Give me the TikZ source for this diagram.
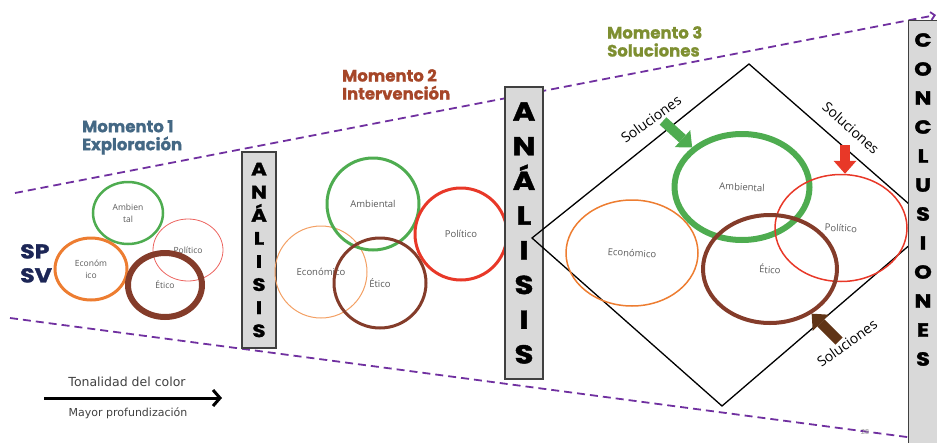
\documentclass[tikz,border=0pt]{standalone}
\usepackage{fontspec}
\usetikzlibrary{arrows.meta,positioning,shapes.geometric}
\newfontfamily\headfont{Poppins}[BoldFeatures={FakeBold=1}]
\newfontfamily\boxfont{Poppins}[FakeStretch=1.18, BoldFeatures={FakeBold=1.6}]
\newfontfamily\lblfont{Open Sans}
\newfontfamily\legfont{DejaVu Sans}
\definecolor{purpl}{RGB}{112,48,160}
\definecolor{mgreen}{RGB}{78,172,80}
\definecolor{morange}{RGB}{237,125,49}
\definecolor{lorange}{RGB}{243,160,100}
\definecolor{mred}{RGB}{232,56,40}
\definecolor{lred}{RGB}{236,100,95}
\definecolor{mbrown}{RGB}{132,60,42}
\definecolor{darkbrown}{RGB}{96,52,22}
\definecolor{mone}{RGB}{68,104,132}
\definecolor{mtwo}{RGB}{166,70,40}
\definecolor{mthree}{RGB}{126,143,49}
\definecolor{navy}{RGB}{28,38,86}
\definecolor{boxgray}{RGB}{217,217,217}
\definecolor{txtgray}{RGB}{89,89,89}

\begin{document}
\begin{tikzpicture}[x=1pt, y=-1pt,
  circ/.style={ellipse, draw, inner sep=0pt, text=txtgray, align=center, font=\lblfont\fontsize{9.5}{11}\selectfont},
  anbox/.style={draw=black!75, line width=1.2pt, fill=boxgray, inner sep=0pt, align=center, font=\boxfont\bfseries},
  moment/.style={anchor=north west, inner sep=0pt, align=left, font=\headfont\bfseries\fontsize{16.5}{18}\selectfont},
  guide/.style={purpl, line width=1.8pt, dash pattern=on 8pt off 5pt},
  sol/.style={inner sep=0pt, font=\lblfont\fontsize{14}{16}\selectfont},
  blockarrow/.style={line width=10pt, -{Triangle[length=13pt, width=23pt, line width=0pt]}},
  legend/.style={inner sep=0pt, anchor=base, text=black!75}]
\useasboundingbox (0,0) rectangle (937,442);

% guide lines
\coordinate (gtl) at (15,193);
\coordinate (gtr) at (936,15);
\coordinate (gbl) at (10,318);
\coordinate (gbr) at (937,441);
\draw[guide, -{Straight Barb[length=4pt, width=8pt]}] (gtl) -- (gtr);
\draw[guide] (gbl) -- (gbr);

% titles
\node[moment, text=mone] (mom1) at (82,120) {Momento 1\\Exploración};
\node[moment, text=mtwo] (mom2) at (342,69) {Momento 2\\Intervención};
\node[moment, text=mthree] (mom3) at (607,26) {Momento 3\\Soluciones};
\node[anchor=north west, inner sep=0pt, align=left, text=navy, font=\boxfont\bfseries\fontsize{20}{24}\selectfont] (spsv) at (20,244) {SP\\SV};

% momento 1
\node[circ, draw=mgreen, line width=2.5pt, minimum width=70pt, minimum height=62pt, font=\lblfont\fontsize{8.5}{12}\selectfont] (amb1) at (128,213) {Ambien\\tal};
\node[circ, draw=morange, line width=3pt, minimum width=72pt, minimum height=62pt, font=\lblfont\fontsize{8.5}{12}\selectfont] (eco1) at (91,269) {Económ\\ico};
\node[circ, draw=lred, line width=0.8pt, minimum width=70pt, minimum height=62pt, font=\lblfont\fontsize{8.5}{10}\selectfont] (pol1) at (188,250) {Político};
\node[circ, draw=mbrown, line width=6pt, minimum width=74pt, minimum height=64pt, font=\lblfont\fontsize{8.5}{10}\selectfont] (eti1) at (165,285) {Ético};

\node[anbox, minimum width=34pt, minimum height=196pt, font=\boxfont\bfseries\fontsize{18}{23.1}\selectfont] (anone) at (259,250) {A\\N\\Á\\L\\I\\S\\I\\S};

% momento 2
\node[circ, draw=lorange, line width=1pt, minimum width=92pt, minimum height=92pt] (eco2) at (321,272) {Económico};
\node[circ, draw=mgreen, line width=3pt, minimum width=92pt, minimum height=92pt] (amb2) at (373,204) {Ambiental};
\node[circ, draw=mbrown, line width=3pt, minimum width=92pt, minimum height=90pt] (eti2) at (380,283) {Ético};
\node[circ, draw=mred, line width=3pt, minimum width=92pt, minimum height=92pt] (pol2) at (461,234) {Político};

\node[anbox, minimum width=38pt, minimum height=292pt, font=\boxfont\bfseries\fontsize{26}{34.7}\selectfont] (antwo) at (524,233) {A\\N\\Á\\L\\I\\S\\I\\S};

% momento 3
\coordinate (dl) at (532,238);
\coordinate (dt) at (749,64);
\coordinate (dr) at (933,225);
\coordinate (db) at (722,406);
\draw[line width=1.3pt] (dl) -- (dt) -- (dr) -- (db) -- cycle;

\node[circ, draw=morange, line width=1.5pt, minimum width=132pt, minimum height=106pt] (eco3) at (632,253) {\rotatebox{-3}{Económico}};
\node[circ, draw=mgreen, line width=6pt, minimum width=135pt, minimum height=106pt] (amb3) at (742,187) {\rotatebox{-3}{Ambiental}};
\node[circ, draw=mred, line width=1.5pt, minimum width=132pt, minimum height=107pt] (pol3) at (841,228) {\rotatebox{-3}{Político}};
\node[circ, draw=mbrown, line width=4pt, minimum width=134pt, minimum height=108pt] (eti3) at (770,269) {\rotatebox{-3}{Ético}};

\node[sol, rotate=35.6] (solamb) at (651,119) {Soluciones};
\node[sol, rotate=-41.7] (solpol) at (851,128) {Soluciones};
\node[sol, rotate=35.6] (soleti) at (847,343) {Soluciones};

\coordinate (gtail) at (663,121);
\coordinate (rtail) at (845,145);
\coordinate (btail) at (839,341);
\draw[blockarrow, mgreen] (gtail) -- (amb3.north west);
\draw[blockarrow, mred] (rtail) -- (rtail |- pol3.north);
\draw[blockarrow, darkbrown] (btail) -- (eti3.-47);

\node[anbox, anchor=north west, minimum width=45pt, minimum height=440pt] (conclbox) at (908,20) {};
\node[inner sep=0pt, anchor=north, align=center, font=\boxfont\bfseries\fontsize{19}{29}\selectfont] (concl) at (923,33) {C\\O\\N\\C\\L\\U\\S\\I\\O\\N\\E\\S};

% leyenda
\coordinate (lgs) at (44,398);
\coordinate (lge) at (222,398);
\draw[line width=3pt, -{Straight Barb[length=7pt, width=16pt]}] (lgs) -- (lge);
\node[legend, font=\legfont\fontsize{12.5}{14}\selectfont] (tono) at (127,386) {Tonalidad del color};
\node[legend, font=\legfont\fontsize{11}{13}\selectfont] (prof) at (128,416) {Mayor profundización};

\node[inner sep=0pt, text=black!45, font=\lblfont\fontsize{7}{8}\selectfont] (pag) at (865,432) {28};
\end{tikzpicture}
\end{document}
